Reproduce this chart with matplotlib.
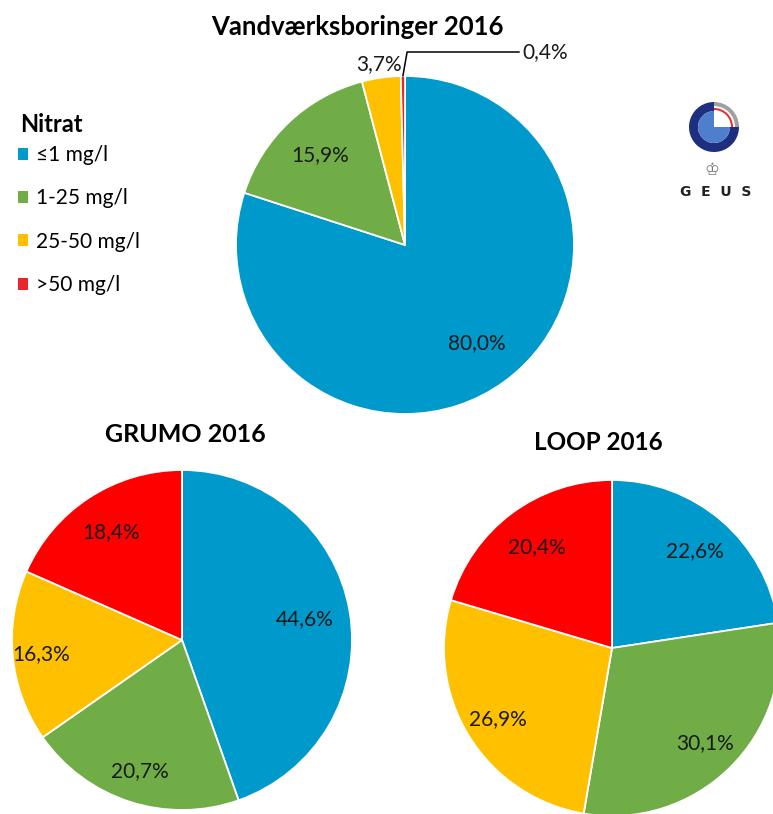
import numpy as np
import matplotlib
matplotlib.use("Agg")
import matplotlib.pyplot as plt
from matplotlib.patches import Patch, Wedge

plt.rcParams['font.family'] = ['Lato', 'DejaVu Sans']

# data
categories = ["≤1 mg/l", "1-25 mg/l", "25-50 mg/l", ">50 mg/l"]
colors = ["#0099CC", "#70AD47", "#FFC000", "#FF0000"]
top_red = "#E8262B"

vand_values = [80.0, 15.9, 3.7, 0.4]
grumo_values = [44.6, 20.7, 16.3, 18.4]
loop_values = [22.6, 30.1, 26.9, 20.4]

titles = ["Vandværksboringer 2016", "GRUMO 2016", "LOOP 2016"]

W, H = 773, 814
fig = plt.figure(figsize=(W / 100, H / 100), dpi=100)
ax = fig.add_axes([0, 0, 1, 1])


def fmt(v):
    return f"{v:.1f}".replace(".", ",") + "%"


def draw_pie(values, cols, cx, cy, r, dists):
    wedges, _ = ax.pie(values, colors=cols, startangle=90, counterclock=False,
                       center=(cx, H - cy), radius=r,
                       wedgeprops=dict(edgecolor="white", linewidth=1.3))
    for w, v, d in zip(wedges, values, dists):
        if d is None:
            continue
        a = np.deg2rad((w.theta1 + w.theta2) / 2)
        ax.text(cx + r * d * np.cos(a), H - cy + r * d * np.sin(a), fmt(v),
                ha="center", va="center", fontsize=15, color="#1a1a1a")
    return wedges


# top pie
top_cols = colors[:3] + [top_red]
wt = draw_pie(vand_values, top_cols, 405, 245, 169, [0.72, 0.73, 1.08, None])
w = wt[3]
a = np.deg2rad((w.theta1 + w.theta2) / 2)
ax.annotate(fmt(vand_values[3]),
            xy=(405 + 169 * np.cos(a), H - 245 + 169 * np.sin(a)),
            xytext=(522, H - 52), ha="left", va="center", fontsize=15,
            color="#1a1a1a",
            arrowprops=dict(arrowstyle="-", color="black", lw=1.1,
                            shrinkA=0, shrinkB=0,
                            connectionstyle="angle,angleA=0,angleB=80,rad=0"))

# bottom pies
draw_pie(grumo_values, colors, 182, 640, 170, [0.73, 0.81, 0.83, 0.76])
draw_pie(loop_values, colors, 612, 648, 168, [0.76, 0.79, 0.80, 0.75])

# titles
ax.text(357, H - 27, titles[0], ha="center", va="center", fontsize=18.5,
        fontweight="bold")
ax.text(185, H - 435, titles[1], ha="center", va="center", fontsize=18,
        fontweight="bold")
ax.text(598, H - 442, titles[2], ha="center", va="center", fontsize=17.5,
        fontweight="bold")

# legend
ax.text(20, H - 125, "Nitrat", ha="left", va="center", fontsize=17,
        fontweight="bold")
handles = [Patch(facecolor=c, edgecolor="none") for c in
           [colors[0], colors[1], colors[2], top_red]]
leg = ax.legend(handles, categories, frameon=False, borderpad=0,
                loc="upper left", bbox_to_anchor=(18 / W, 1 - 145 / H),
                bbox_transform=fig.transFigure, fontsize=15,
                handlelength=0.5, handleheight=0.5, handletextpad=0.35,
                labelspacing=1.12, borderaxespad=0)

# GEUS logo
lx, ly = 714, H - 127
ax.add_patch(Wedge((lx, ly), 25, 90, 360, width=9, facecolor="#1F2F7F",
                   edgecolor="none"))
ax.add_patch(Wedge((lx, ly), 16, 90, 360, facecolor="#4F7FCC",
                   edgecolor="none"))
ax.add_patch(Wedge((lx, ly), 25, 0, 90, width=4, facecolor="#A0A0A0",
                   edgecolor="none"))
ax.add_patch(Wedge((lx, ly), 19, 0, 90, width=2, facecolor="#E03030",
                   edgecolor="none"))
ax.text(712, H - 170, "♔", ha="center", va="center", fontsize=12,
        color="#777777", family="DejaVu Sans")
ax.text(716, H - 192, "G  E  U  S", ha="center", va="center", fontsize=10,
        fontweight="bold", color="#222222", family="DejaVu Sans")

ax.set_xlim(0, W)
ax.set_ylim(0, H)
ax.set_aspect("auto")
ax.axis("off")

fig.savefig("out.png", dpi=100)
